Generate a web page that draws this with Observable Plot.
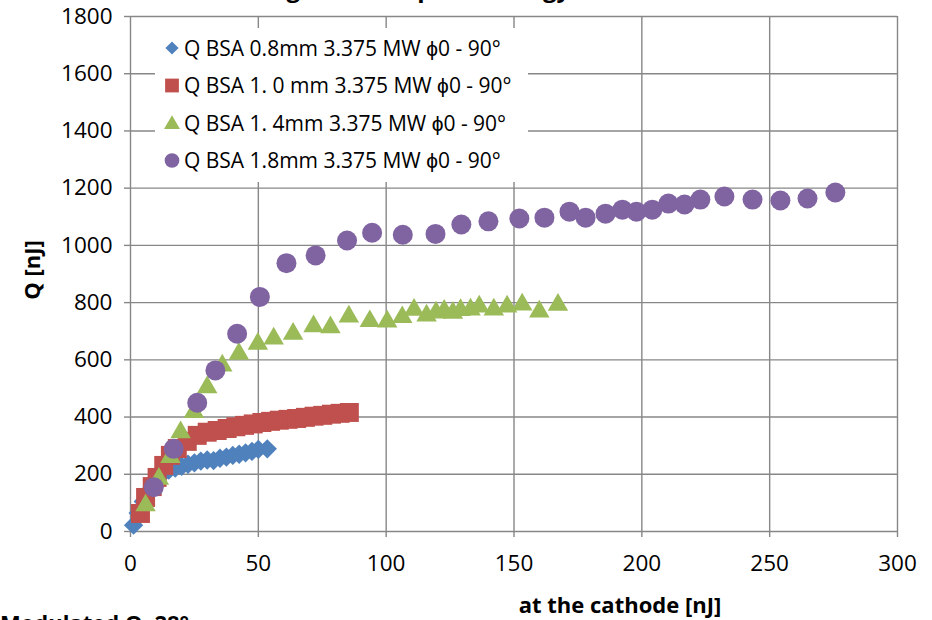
<!DOCTYPE html>
<html><head><meta charset="utf-8">
<script src="https://cdn.jsdelivr.net/npm/d3@7"></script>
<script src="https://cdn.jsdelivr.net/npm/@observablehq/plot@0.6"></script>
<style>
body{margin:0;background:#fff;}
#wrap{position:relative;width:932px;height:620px;overflow:hidden;background:#fff;}
</style></head>
<body><div id="wrap"></div>
<script>
// ---- data ----
const xTicks = [0, 50, 100, 150, 200, 250, 300];
const yTicks = [0, 200, 400, 600, 800, 1000, 1200, 1400, 1600, 1800];
const seriesNames = [
  "Q BSA 0.8mm 3.375 MW \u03D50 - 90\u00B0",
  "Q BSA 1. 0 mm 3.375 MW \u03D50 - 90\u00B0",
  "Q BSA 1. 4mm 3.375 MW \u03D50 - 90\u00B0",
  "Q BSA 1.8mm 3.375 MW \u03D50 - 90\u00B0"
];
const seriesColors = ["#4F81BD", "#C0504D", "#9BBB59", "#8064A2"];
const seriesSymbols = ["diamond2", "square", "triangle", "circle"];

const e08 = [1.2, 3, 5, 7, 9, 11, 13, 15, 17.5, 20, 22.5, 25, 27.5, 30, 32.5, 35, 37.5, 40, 42.5, 45, 47.5, 50, 53.5];
const q08 = [22, 65, 105, 140, 168, 190, 205, 215, 222, 228, 235, 240, 246, 250, 248, 256, 260, 266, 270, 275, 280, 287, 289];

const e10 = [3.9, 5.9, 8.5, 10.4, 13.0, 15.6, 18.3, 22.2, 26.1, 30.0, 33.9, 37.8, 41.2, 44.6, 48, 51.4, 54.8, 58.2, 61.6, 65, 68.4, 71.8, 75.2, 78.6, 82, 85.6];
const q10 = [63, 119, 157, 189, 231, 266, 290, 315, 336, 347, 353, 360, 366, 371, 376, 381, 385, 389, 392, 395, 399, 403, 406, 410, 413, 416];

const e14 = [5.9, 11.1, 15.6, 19.6, 24.8, 30.0, 35.9, 42.4, 49.8, 56.0, 63.6, 71.6, 78.2, 85.4, 93.6, 100.4, 106.3, 110.9, 115.8, 119.5, 122.7, 126.1, 129.1, 133.0, 136.4, 142.1, 147.3, 153.2, 159.9, 167.2];
const q14 = [91, 184, 260, 347, 417, 504, 580, 621, 656, 674, 691, 717, 714, 751, 735, 734, 749, 775, 755, 765, 771, 764, 774, 776, 786, 776, 786, 793, 769, 792];

const e18 = [9.1, 16.9, 26.1, 33.2, 41.7, 50.6, 61, 72.4, 84.7, 94.5, 106.5, 119.3, 129.4, 140, 152.1, 161.9, 171.7, 178, 185.8, 192.4, 197.9, 204.1, 210.4, 216.7, 222.9, 232.3, 243.3, 254.2, 264.8, 275.7];
const q18 = [155, 289, 450, 563, 691, 820, 938, 965, 1017, 1044, 1037, 1040, 1073, 1084, 1094, 1097, 1118, 1097, 1111, 1125, 1118, 1125, 1146, 1143, 1160, 1171, 1160, 1157, 1164, 1185];

const markerR = [8.7, 10.7, 7.6, 10];

// ---- build ----
const energies = [e08, e10, e14, e18];
const charges = [q08, q10, q14, q18];
const tables = energies.map((es, k) => es.map((e, i) => ({e, q: charges[k][i]})));

const FONT = "'Open Sans', sans-serif";
const GRID = "#878787";

const plot = Plot.plot({
  width: 932, height: 620,
  marginLeft: 130, marginRight: 35, marginTop: 16, marginBottom: 89,
  x: {domain: [0, 300]},
  y: {domain: [0, 1800]},
  style: {fontFamily: FONT, fontSize: "22px", color: "black", background: "white", overflow: "visible"},
  marks: [
    Plot.gridX(xTicks, {stroke: GRID, strokeOpacity: 1, strokeWidth: 1.4}),
    Plot.gridY(yTicks, {stroke: GRID, strokeOpacity: 1, strokeWidth: 1.4}),
    Plot.axisX({ticks: xTicks, tickSize: 6, tickPadding: 18, stroke: GRID, strokeWidth: 1.4, label: null, fontSize: 22.5}),
    Plot.axisY({ticks: yTicks, tickSize: 6, tickPadding: 12, stroke: GRID, strokeWidth: 1.4, label: null, fontSize: 22.5, tickFormat: d => String(d)}),
    ...tables.map((t, k) => Plot.dot(t, {x: "e", y: "q", symbol: seriesSymbols[k], r: markerR[k], fill: seriesColors[k], stroke: "none"}))
  ]
});

const svg = d3.select(plot);

// legend
const lg = svg.append("g");
lg.append("rect").attr("x", 155).attr("y", 28).attr("width", 373).attr("height", 154).attr("fill", "white");
const legendSym = {diamond2: d3.symbolDiamond2, square: d3.symbolSquare, triangle: d3.symbolTriangle, circle: d3.symbolCircle};
const legendSize = [110, 190, 110, 170];
seriesNames.forEach((name, k) => {
  const cy = 48 + k * 37.5;
  lg.append("path")
    .attr("d", d3.symbol(legendSym[seriesSymbols[k]], legendSize[k])())
    .attr("transform", `translate(172,${cy + (k === 2 ? 1.5 : 0)})`)
    .attr("fill", seriesColors[k]);
  lg.append("text").attr("x", 184).attr("y", cy).attr("dy", "0.36em")
    .attr("text-anchor", "start")
    .attr("font-family", FONT).attr("font-size", 21).attr("fill", "black")
    .text(name);
});

// axis titles and extra texts
svg.append("text").attr("transform", "translate(40,270) rotate(-90)")
  .attr("text-anchor", "middle").attr("font-family", FONT).attr("font-weight", "bold")
  .attr("font-size", 22).attr("fill", "black").text("Q [nJ]");
svg.append("text").attr("x", 620).attr("y", 613)
  .attr("text-anchor", "middle").attr("font-family", FONT).attr("font-weight", "bold")
  .attr("font-size", 22).attr("fill", "black").text("at the cathode [nJ]");
svg.append("text").attr("x", 0).attr("y", 631)
  .attr("text-anchor", "start").attr("font-family", FONT).attr("font-weight", "bold")
  .attr("font-size", 22).attr("fill", "black").text("Modulated Q, 28\u00B0");
svg.append("text").attr("x", 230).attr("y", -3)
  .attr("text-anchor", "start").attr("font-family", FONT).attr("font-weight", "bold")
  .attr("font-size", 24).attr("fill", "black").text("Charge vs laser pulse energy");

document.getElementById("wrap").appendChild(plot);
</script>
</body></html>
